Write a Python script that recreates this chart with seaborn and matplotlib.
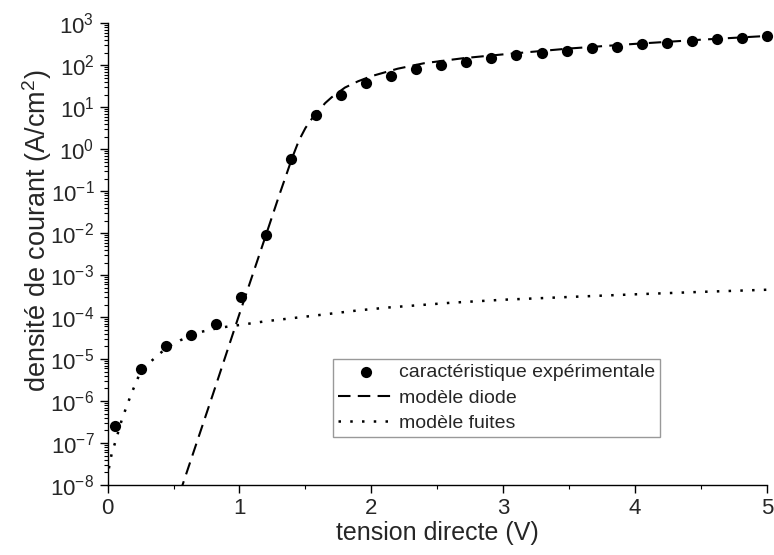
import matplotlib
matplotlib.use('Agg')
import matplotlib.pyplot as plt
from matplotlib.ticker import LogLocator, NullFormatter
import seaborn as sns

# ── Data ──────────────────────────────────────────────────
# measured points (V, A/cm2)
tension_exp = [0.06, 0.25, 0.44, 0.63, 0.82, 1.01, 1.20, 1.39, 1.58,
               1.77, 1.96, 2.15, 2.34, 2.53, 2.72, 2.91, 3.10, 3.29,
               3.48, 3.67, 3.86, 4.05, 4.24, 4.43, 4.62, 4.81, 5.00]
densite_exp = [2.5e-7, 5.9e-6, 2.0e-5, 3.8e-5, 6.8e-5, 3.0e-4, 8.9e-3,
               0.57, 6.7, 20, 37, 56, 82, 102, 122, 148, 178, 200,
               224, 257, 280, 316, 347, 380, 420, 457, 500]

# diode model
tension_diode = [0.50, 0.60, 0.80, 1.00, 1.20, 1.30, 1.40, 1.45, 1.50,
                 1.55, 1.60, 1.65, 1.70, 1.80, 1.90, 2.00, 2.20, 2.40,
                 2.70, 3.00, 3.50, 4.00, 4.50, 5.00]
densite_diode = [2.3e-9, 2.0e-8, 1.5e-6, 1.2e-4, 8.9e-3, 7.8e-2, 0.63,
                 1.6, 3.2, 5.4, 8.3, 12.6, 17.4, 29.5, 41.7, 55, 83, 112,
                 148, 182, 251, 324, 407, 500]

# leakage model
tension_fuites = [0.01, 0.03, 0.06, 0.11, 0.18, 0.25, 0.34, 0.45, 0.55,
                  0.70, 0.85, 1.00, 1.20, 1.58, 1.90, 2.13, 2.60, 3.00,
                  3.58, 4.00, 4.50, 5.00]
densite_fuites = [2.5e-8, 5.4e-8, 1.1e-7, 3.8e-7, 1.5e-6, 5.0e-6, 9.5e-6,
                  1.9e-5, 2.8e-5, 4.4e-5, 5.6e-5, 6.5e-5, 8.0e-5, 1.1e-4,
                  1.45e-4, 1.7e-4, 2.2e-4, 2.6e-4, 3.1e-4, 3.5e-4, 4.0e-4,
                  4.5e-4]

# ── Style ─────────────────────────────────────────────────
sns.set_style('ticks')
plt.rcParams['font.family'] = ['Liberation Sans', 'DejaVu Sans']
plt.rcParams['mathtext.fontset'] = 'custom'
plt.rcParams['mathtext.rm'] = 'Liberation Sans'
plt.rcParams['mathtext.it'] = 'Liberation Sans:italic'

fig = plt.figure(figsize=(7.74, 5.55), dpi=100)
ax = fig.add_axes([0.139, 0.126, 0.852, 0.832])
ax.set_yscale('log')

sns.lineplot(x=tension_diode, y=densite_diode, ax=ax, color='black',
             linewidth=1.5, linestyle=(0, (6, 3.5)), sort=False,
             estimator=None, label='modèle diode')
sns.lineplot(x=tension_fuites, y=densite_fuites, ax=ax, color='black',
             linewidth=1.8, linestyle=(0, (1, 3.7)), sort=False,
             estimator=None, label='modèle fuites')
sns.scatterplot(x=tension_exp, y=densite_exp, ax=ax, color='black',
                s=65, edgecolor='black', linewidth=0, zorder=3,
                clip_on=False, label='caractéristique expérimentale')

ax.set_xlim(0, 5)
ax.set_ylim(1e-8, 1e3)
ax.set_xticks([0, 1, 2, 3, 4, 5])
ax.set_xticks([0.5, 1.5, 2.5, 3.5, 4.5], minor=True)
ax.set_xticklabels(['0', '1', '2', '3', '4', '5'])
ax.yaxis.set_major_locator(LogLocator(base=10, numticks=20))
ax.yaxis.set_minor_locator(LogLocator(base=10, subs=range(2, 10), numticks=200))
ax.yaxis.set_minor_formatter(NullFormatter())
ax.tick_params(axis='both', which='major', direction='out', length=6,
               width=1, labelsize=16, color='black', pad=3.5)
ax.tick_params(axis='both', which='minor', direction='out', length=3.2,
               width=0.8, color='black')
ax.set_xlabel('tension directe (V)', fontsize=18, labelpad=1)
ax.set_ylabel('densité de courant (A/cm$^2$)', fontsize=19.5)
ax.yaxis.set_label_coords(-0.082, 0.55)
sns.despine(ax=ax)
for sp in ('left', 'bottom'):
    ax.spines[sp].set_color('black')
    ax.spines[sp].set_linewidth(1)
ax.grid(False)

h, l = ax.get_legend_handles_labels()
order = [2, 0, 1]
leg = ax.legend([h[i] for i in order], [l[i] for i in order],
                loc='lower left', bbox_to_anchor=(0.342, 0.104),
                fontsize=14, frameon=True, fancybox=False, framealpha=1,
                edgecolor='#999999', handlelength=2.9, handletextpad=0.25,
                labelspacing=0.4, borderpad=0.25, scatterpoints=1,
                borderaxespad=0)
leg.get_frame().set_linewidth(1)

plt.savefig('out.png', dpi=100)
plt.close()
